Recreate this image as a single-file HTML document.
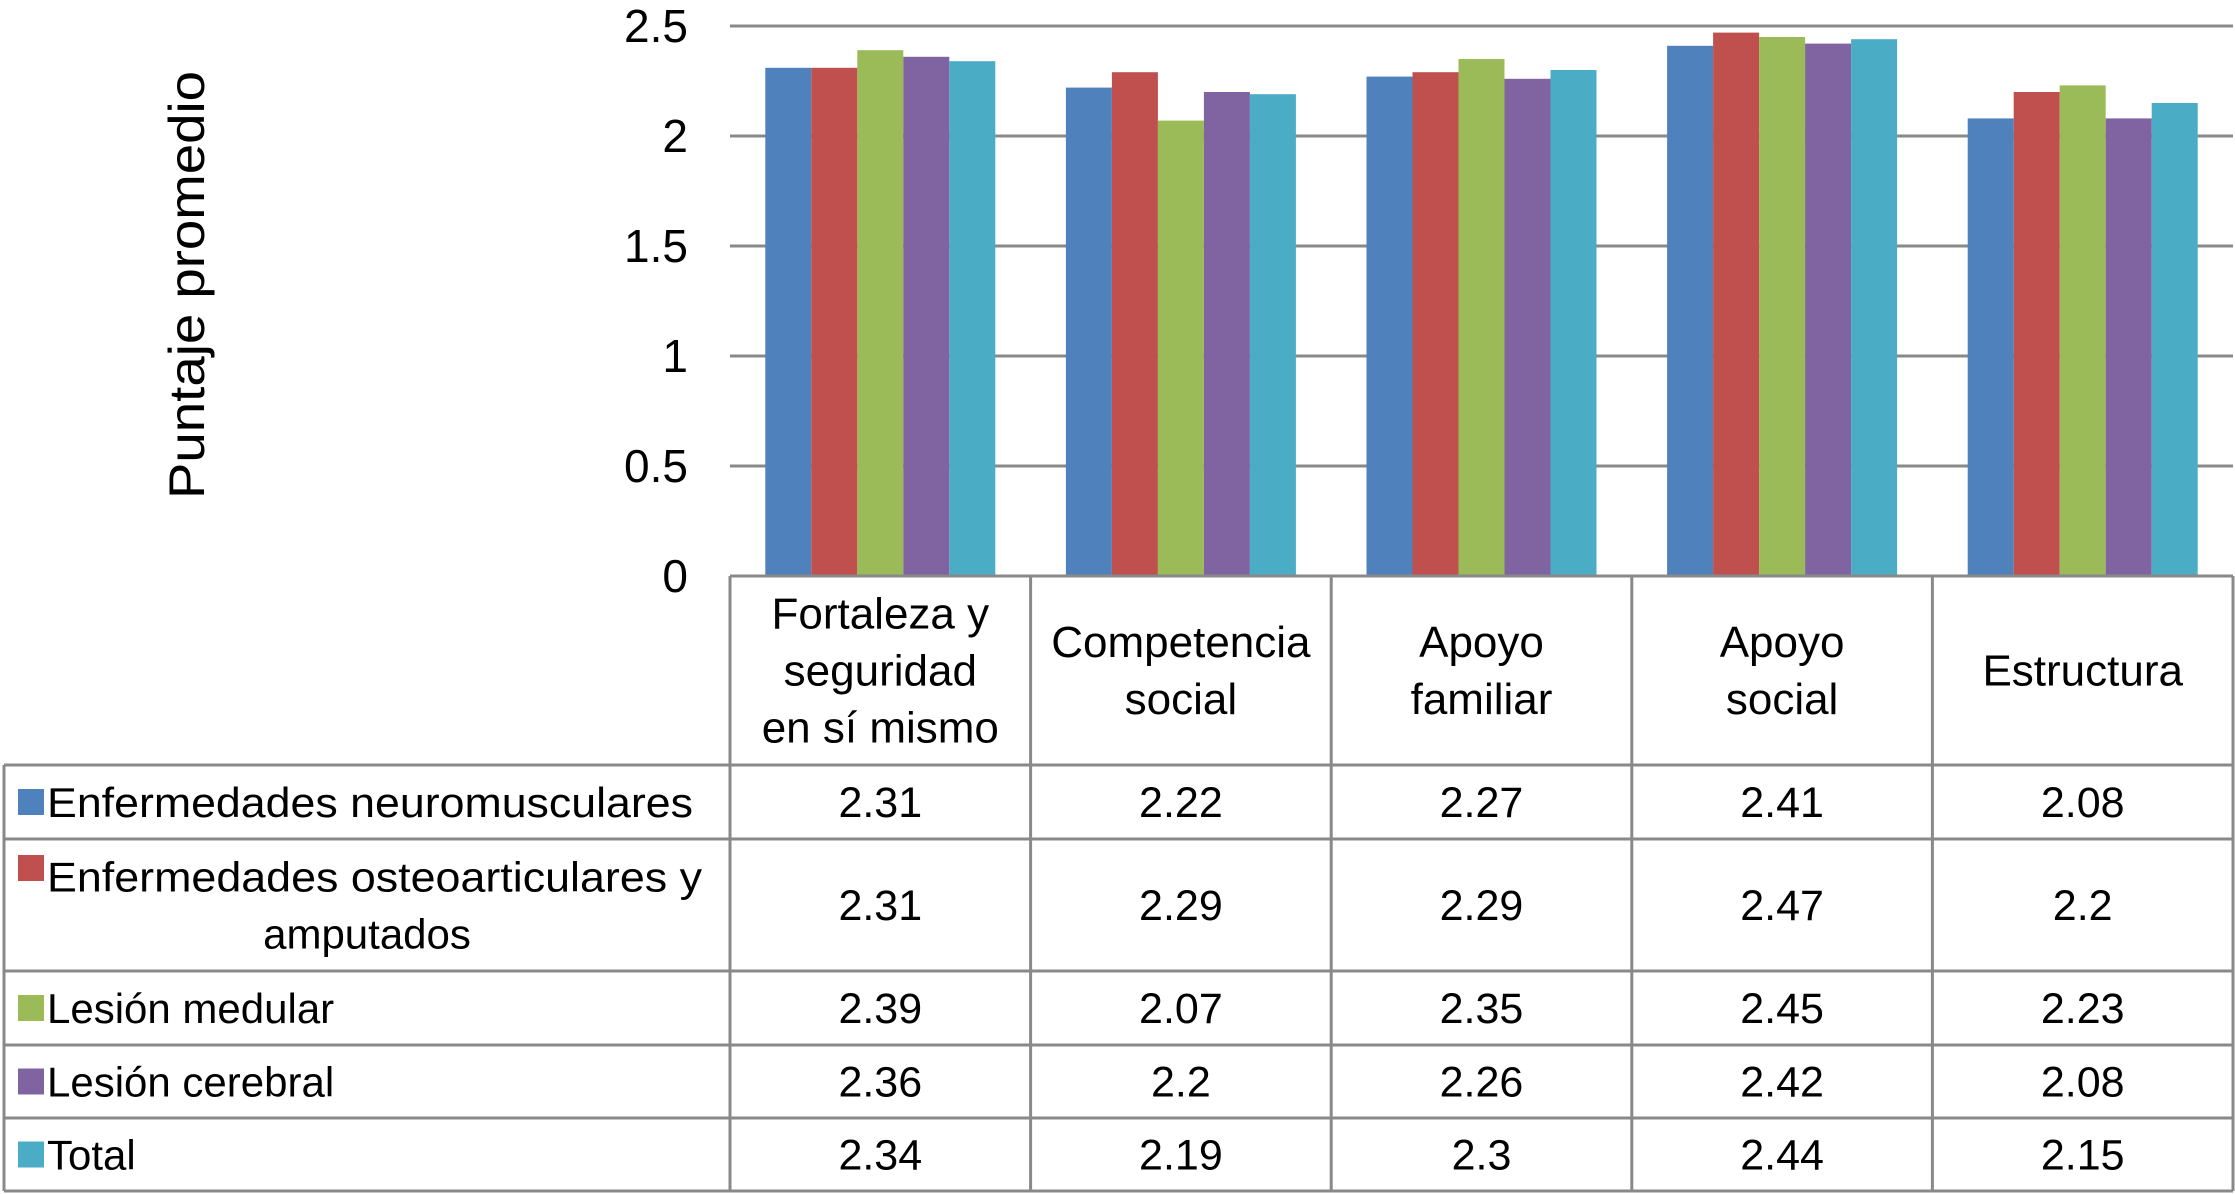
<!DOCTYPE html>
<html><head><meta charset="utf-8"><style>
html,body{margin:0;padding:0;background:#fff;}
svg{display:block;}
text{font-family:"Liberation Sans",sans-serif;fill:#000;}
</style></head><body>
<svg id="chart" width="2235" height="1194" viewBox="0 0 2235 1194" xmlns="http://www.w3.org/2000/svg">
<rect width="2235" height="1194" fill="#fff"/>
<g id="grid"></g>
<g id="bars"></g>
<g id="table"></g>
<g id="ticks"></g>
<text transform="translate(204,285) rotate(-90)" text-anchor="middle" font-size="50" textLength="428" lengthAdjust="spacingAndGlyphs">Puntaje promedio</text>
</svg>
<script>
const categories = [["Fortaleza y","seguridad","en sí mismo"],["Competencia","social"],["Apoyo","familiar"],["Apoyo","social"],["Estructura"]];
const seriesNames = [["Enfermedades neuromusculares"],["Enfermedades osteoarticulares y","amputados"],["Lesión medular"],["Lesión cerebral"],["Total"]];
const neuromusculares = [2.31,2.22,2.27,2.41,2.08];
const osteoarticulares = [2.31,2.29,2.29,2.47,2.2];
const medular = [2.39,2.07,2.35,2.45,2.23];
const cerebral = [2.36,2.2,2.26,2.42,2.08];
const total = [2.34,2.19,2.3,2.44,2.15];
const valueLabels = [["2.31","2.22","2.27","2.41","2.08"],["2.31","2.29","2.29","2.47","2.2"],["2.39","2.07","2.35","2.45","2.23"],["2.36","2.2","2.26","2.42","2.08"],["2.34","2.19","2.3","2.44","2.15"]];
const yTicks = [0,0.5,1,1.5,2,2.5];
const yTickLabels = ["0","0.5","1","1.5","2","2.5"];

const series = [neuromusculares, osteoarticulares, medular, cerebral, total];
const colors = ["#4F81BD","#C0504D","#9BBB59","#8064A2","#4BACC6"];
const NS = "http://www.w3.org/2000/svg";
const plotL = 730, plotR = 2233, y0 = 576, yTop = 26, yMax = 2.5;
const colW = (plotR - plotL) / categories.length;
function y(v){ return y0 - (v / yMax) * (y0 - yTop); }
function xCol(i){ return plotL + i * colW; }
function mk(tag, attrs, parent){ const e = document.createElementNS(NS, tag); for (const k in attrs) e.setAttribute(k, attrs[k]); parent.appendChild(e); return e; }
const grid = document.getElementById('grid'), bars = document.getElementById('bars'), table = document.getElementById('table'), ticks = document.getElementById('ticks');

yTicks.forEach((t, i) => {
  if (t > 0) {
    const l = mk('line', {x1: plotL, x2: plotR, y1: y(t), y2: y(t), stroke: '#898989', 'stroke-width': 3}, grid);
    
    
  }
  const tx = mk('text', {x: 688, y: y(t) + 16, 'text-anchor': 'end', 'font-size': 46}, ticks);
  tx.textContent = yTickLabels[i];
  
  
});

const barW = 46, groupPad = (colW - barW * series.length) / 2;
categories.forEach((c, ci) => {
  series.forEach((s, si) => {
    const bx = xCol(ci) + groupPad + si * barW;
    const r = mk('rect', {x: bx, y: y(s[ci]), width: barW, height: y0 - y(s[ci]), fill: colors[si]}, bars);
    
    
  });
});

// table
const rowY = [576, 765, 839, 971, 1045, 1118, 1191];
const tableL = 4;
const lc = '#898989';
function hl(x1, x2, yy){ const l = mk('line', {x1: x1, x2: x2, y1: yy, y2: yy, stroke: lc, 'stroke-width': 3}, table);   }
function vl(xx, y1, y2){ const l = mk('line', {x1: xx, x2: xx, y1: y1, y2: y2, stroke: lc, 'stroke-width': 3}, table);   }
hl(plotL, plotR, rowY[0]);
for (let r = 1; r < rowY.length; r++) hl(tableL, plotR, rowY[r]);
vl(tableL, rowY[1], rowY[6]);
for (let c = 0; c <= categories.length; c++) vl(xCol(c), rowY[0], rowY[6]);

categories.forEach((lines, ci) => {
  const cx = xCol(ci) + colW / 2, cy = (rowY[0] + rowY[1]) / 2, lh = 57;
  lines.forEach((ln, li) => {
    const t = mk('text', {x: cx, y: cy + (li - (lines.length - 1) / 2) * lh + 15, 'text-anchor': 'middle', 'font-size': 44}, table);
    t.textContent = ln;
    
    
  });
});

seriesNames.forEach((lines, si) => {
  const top = rowY[si + 1], bot = rowY[si + 2], cy = (top + bot) / 2;
  const sq = mk('rect', {x: 18, y: (lines.length > 1 ? cy - 37 : cy) - 13, width: 26, height: 26, fill: colors[si]}, table);
  
  
  lines.forEach((ln, li) => {
    const yy = cy + (li - (lines.length - 1) / 2) * 57 + 15;
    const attrs = li === 0 ? {x: 47, y: yy, 'font-size': 42} : {x: 367, y: yy, 'font-size': 42, 'text-anchor': 'middle'};
    if (si === 0) { attrs.textLength = 646; attrs.lengthAdjust = 'spacingAndGlyphs'; }
    if (si === 1 && li === 0) { attrs.textLength = 655; attrs.lengthAdjust = 'spacingAndGlyphs'; }
    const t = mk('text', attrs, table);
    t.textContent = ln;
    
    
  });
  categories.forEach((c, ci) => {
    const t = mk('text', {x: xCol(ci) + colW / 2, y: cy + 15, 'text-anchor': 'middle', 'font-size': 43}, table);
    t.textContent = valueLabels[si][ci];
    
    
  });
});
</script>
</body></html>
